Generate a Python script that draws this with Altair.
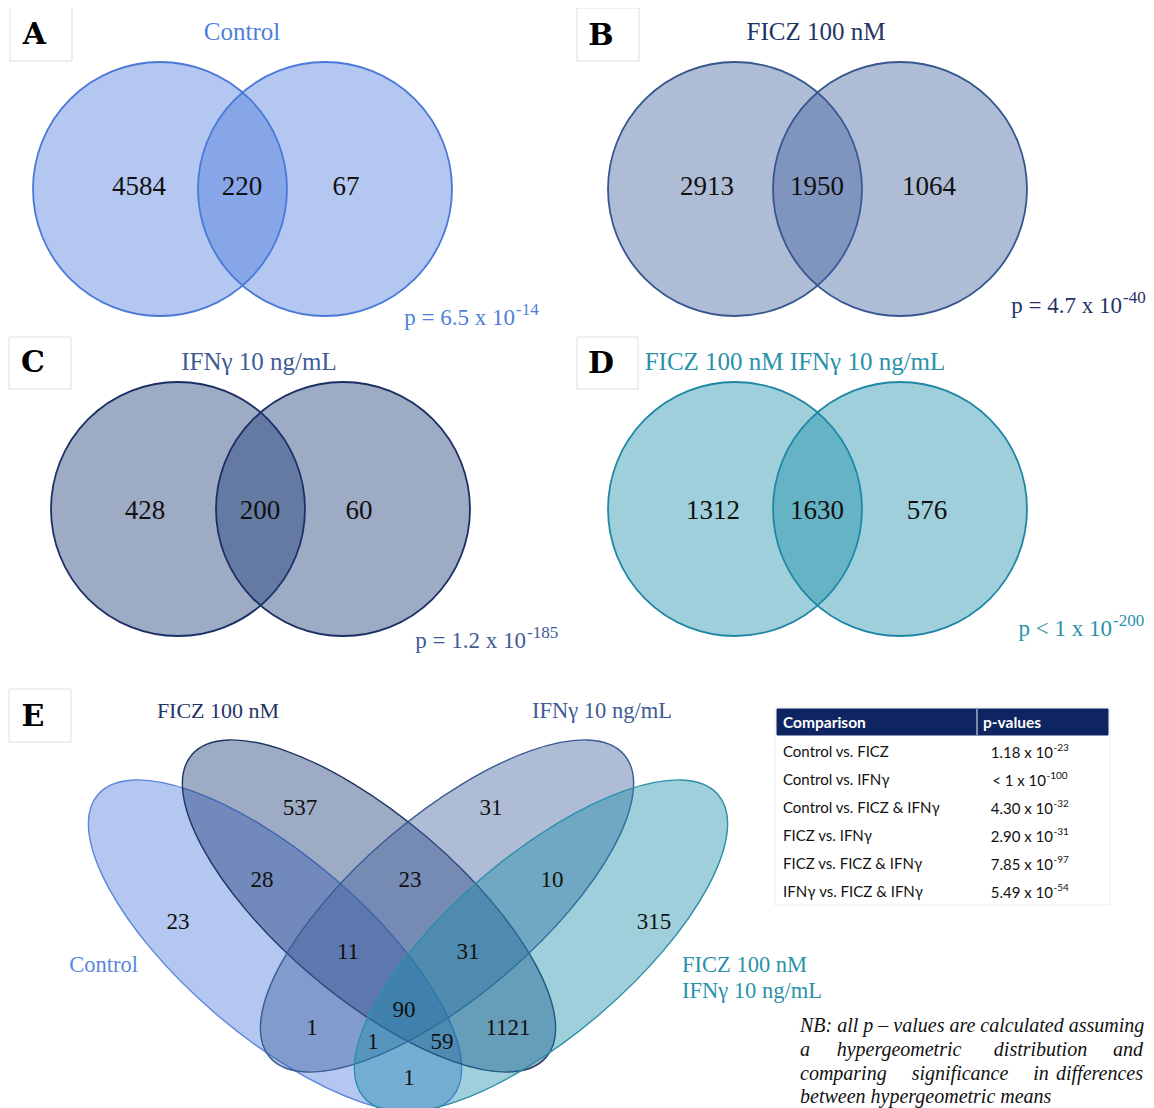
import altair as alt
import pandas as pd

# ---------------- values ----------------
PANEL_LETTERS = ["A", "B", "C", "D", "E"]

PAIR_TITLES = ["Control", "FICZ 100 nM", "IFNγ 10 ng/mL", "FICZ 100 nM IFNγ 10 ng/mL"]
PAIR_LEFT_ONLY = [4584, 2913, 428, 1312]
PAIR_SHARED = [220, 1950, 200, 1630]
PAIR_RIGHT_ONLY = [67, 1064, 60, 576]
PAIR_P_BASE = ["p = 6.5 x 10", "p = 4.7 x 10", "p = 1.2 x 10", "p < 1 x 10"]
PAIR_P_EXP = ["-14", "-40", "-185", "-200"]

QUAD_SETS = ["Control", "FICZ 100 nM", "IFNγ 10 ng/mL", "FICZ 100 nM IFNγ 10 ng/mL"]
# regions: C, F, I, FI, C&F, F&I, I&FI, C&F&I, F&I&FI, all, C&I, F&FI, C&I&FI, C&F&FI, C&FI
QUAD_COUNTS = [23, 537, 31, 315, 28, 23, 10, 11, 31, 90, 1, 1121, 1, 59, 1]

TABLE_HEAD = ["Comparison", "p-values"]
TABLE_COMPARISON = ["Control vs. FICZ", "Control vs. IFNγ", "Control vs. FICZ & IFNγ",
                    "FICZ vs. IFNγ", "FICZ vs. FICZ & IFNγ", "IFNγ vs. FICZ & IFNγ"]
TABLE_P_BASE = ["1.18 x 10", "< 1 x 10", "4.30 x 10", "2.90 x 10", "7.85 x 10", "5.49 x 10"]
TABLE_P_EXP = ["-23", "-100", "-32", "-31", "-97", "-54"]

NOTE_LINE1 = "NB: all p – values are calculated assuming"
NOTE_LINE2 = ["a", "hypergeometric", "distribution", "and"]
NOTE_LINE3 = ["comparing", "significance", "in", "differences"]
NOTE_LINE4 = "between hypergeometric means"

# ---------------- layout (page pixel coordinates) ----------------
W, H = 1138, 1100
SERIF = "Liberation Serif"
SANS = "Lato"
LETTER_FONT = "DejaVu Serif"

PAIR_LEFT_CENTER = [(160, 189), (735, 189), (178, 509), (735, 509)]
PAIR_GAP = 165
PAIR_R = 127
PAIR_FILL = ["#4a7adb", "#3e5f9d", "#183773", "#1a8da9"]
PAIR_STROKE = ["#4a78d8", "#35568f", "#1b2f66", "#1f87a5"]
PAIR_TITLE_COLOR = ["#4f7fdb", "#1f3566", "#3f5b96", "#2a91ab"]
PAIR_TITLE_POS = [(242, 32), (816, 32), (259, 362), (795, 362)]
PAIR_NUM_X = [(139, 242, 346), (707, 817, 929), (145, 260, 359), (713, 817, 927)]
PAIR_NUM_Y = [187, 187, 511, 511]
PAIR_P_JOIN = [515, 1122, 526, 1112]
PAIR_P_BASELINE = [325, 313, 648, 636]

QUAD_CENTER = [(275, 946), (369, 906), (447, 906), (541, 946)]
QUAD_ANGLE = [40.5, 40.5, 319.5, 319.5]
QUAD_A, QUAD_B = 233, 90
QUAD_FILL = ["#4a7adb", "#183773", "#3e5f9d", "#1a8da9"]
QUAD_STROKE = ["#5b86dd", "#1f3566", "#3a5a93", "#2a8fa8"]
QUAD_NUM_POS = [(178, 922), (300, 808), (491, 808), (654, 922), (262, 880), (410, 880),
                (552, 880), (348, 952), (468, 952), (404, 1010), (312, 1028), (508, 1028),
                (373, 1042), (442, 1042), (409, 1078)]

LETTER_BOX = [(10, 7, 72, 61), (577, 8, 639, 61), (9, 337, 71, 389), (577, 337, 638, 389),
              (9, 689, 71, 742)]
LETTER_POS = [(34.5, 35), (601, 35.5), (33, 363), (601, 364), (33, 717)]

TABLE_BOX = (775, 707, 1110, 905)
TABLE_HEAD_BOX = (777, 709, 1108, 735)
TABLE_DIVIDER_X = 977
TABLE_COL_X = [783, 983]
TABLE_ROW_Y = [752, 780, 808, 836, 864, 892]
TABLE_P_JOIN = [1053, 1046, 1053, 1053, 1053, 1053]

NOTE_BASELINES = [1032, 1056, 1079.5, 1103]

xs = alt.Scale(domain=[8, 8 + W], range=[0, W], nice=False, zero=False)
ys = alt.Scale(domain=[8, 8 + H], range=[0, H], nice=False, zero=False)


def X(f="x"):
    return alt.X(f"{f}:Q", scale=xs, axis=None)


def Y(f="y"):
    return alt.Y(f"{f}:Q", scale=ys, axis=None)


# ---------------- shapes ----------------
circles = []
for i in range(4):
    cx, cy = PAIR_LEFT_CENTER[i]
    for k in range(2):
        circles.append(dict(x=cx + k * PAIR_GAP, y=cy, size=(2 * PAIR_R) ** 2,
                            fill=PAIR_FILL[i], stroke=PAIR_STROKE[i]))
circles = pd.DataFrame(circles)

ellipses = pd.DataFrame([dict(x=QUAD_CENTER[i][0], y=QUAD_CENTER[i][1], size=(2 * QUAD_A) ** 2,
                              angle=QUAD_ANGLE[i], fill=QUAD_FILL[i], stroke=QUAD_STROKE[i],
                              name=QUAD_SETS[i]) for i in range(4)])
k = QUAD_B / QUAD_A
ELLIPSE_PATH = f"M-1,0A1,{k:.4f},0,1,1,1,0A1,{k:.4f},0,1,1,-1,0Z"

circle_layer = alt.Chart(circles).mark_point(
    shape="circle", filled=True, opacity=1, fillOpacity=0.42, strokeOpacity=1, strokeWidth=1.8
).encode(x=X(), y=Y(), size=alt.Size("size:Q", scale=None),
         fill=alt.Fill("fill:N", scale=None), stroke=alt.Stroke("stroke:N", scale=None))

ellipse_layer = alt.Chart(ellipses).mark_point(
    shape=ELLIPSE_PATH, filled=True, opacity=1, fillOpacity=0.42, strokeOpacity=1,
    strokeWidth=1.4, clip=True
).encode(x=X(), y=Y(), size=alt.Size("size:Q", scale=None),
         angle=alt.Angle("angle:Q", scale=None),
         fill=alt.Fill("fill:N", scale=None), stroke=alt.Stroke("stroke:N", scale=None))

# boxes
rects = []
for (x1, y1, x2, y2) in LETTER_BOX:
    rects.append(dict(x=x1, y=y1, x2=x2, y2=y2, fill="#ffffff", stroke="#dedede"))
rects.append(dict(x=TABLE_BOX[0], y=TABLE_BOX[1], x2=TABLE_BOX[2], y2=TABLE_BOX[3],
                  fill="#ffffff", stroke="#ececec"))
rects.append(dict(x=TABLE_HEAD_BOX[0], y=TABLE_HEAD_BOX[1], x2=TABLE_HEAD_BOX[2],
                  y2=TABLE_HEAD_BOX[3], fill="#0e2561", stroke="#0e2561"))
rects = pd.DataFrame(rects)
rect_layer = alt.Chart(rects).mark_rect(strokeWidth=1).encode(
    x=X(), y=Y(), x2="x2:Q", y2="y2:Q",
    fill=alt.Fill("fill:N", scale=None), stroke=alt.Stroke("stroke:N", scale=None))

divider = alt.Chart(pd.DataFrame([dict(x=TABLE_DIVIDER_X, y=TABLE_HEAD_BOX[1],
                                       y2=TABLE_HEAD_BOX[3])])).mark_rule(
    color="#c8cfe0", strokeWidth=1.2).encode(x=X(), y=Y(), y2="y2:Q")

# ---------------- texts ----------------
rows = []


def add(text, x, y, size, color, font=SERIF, align="center", baseline="middle",
        weight="normal", style="normal"):
    rows.append(dict(text=str(text), x=x, y=y, size=size, color=color, font=font,
                     align=align, baseline=baseline, weight=weight, style=style))


for i, letter in enumerate(PANEL_LETTERS):
    add(letter, LETTER_POS[i][0], LETTER_POS[i][1], 30, "#000000", font=LETTER_FONT, weight="bold")

for i in range(4):
    tx, ty = PAIR_TITLE_POS[i]
    add(PAIR_TITLES[i], tx, ty, 25, PAIR_TITLE_COLOR[i])
    vals = [PAIR_LEFT_ONLY[i], PAIR_SHARED[i], PAIR_RIGHT_ONLY[i]]
    for j in range(3):
        add(vals[j], PAIR_NUM_X[i][j], PAIR_NUM_Y[i], 27, "#111111")
    add(PAIR_P_BASE[i], PAIR_P_JOIN[i], PAIR_P_BASELINE[i], 23, PAIR_TITLE_COLOR[i],
        align="right", baseline="alphabetic")
    add(PAIR_P_EXP[i], PAIR_P_JOIN[i] + 1, PAIR_P_BASELINE[i] - 10, 17, PAIR_TITLE_COLOR[i],
        align="left", baseline="alphabetic")

for (x, y), v in zip(QUAD_NUM_POS, QUAD_COUNTS):
    add(v, x, y, 23, "#111111")

add("Control", 103.5, 965, 22.5, "#5b86dd")
add("FICZ 100 nM", 218, 711, 22, "#1f3566")
add("IFNγ 10 ng/mL", 602, 711, 22.5, "#3f5b96")
add("FICZ 100 nM", 682, 965, 22.5, "#2a91ab", align="left")
add("IFNγ 10 ng/mL", 682, 991, 22.5, "#2a91ab", align="left")

# table
add(TABLE_HEAD[0], TABLE_COL_X[0], 722.5, 15.5, "#ffffff", font=SANS, align="left", weight="bold")
add(TABLE_HEAD[1], TABLE_COL_X[1], 722.5, 15.5, "#ffffff", font=SANS, align="left", weight="bold")
for r in range(6):
    ry = TABLE_ROW_Y[r]
    add(TABLE_COMPARISON[r], TABLE_COL_X[0], ry, 15, "#111111", font=SANS, align="left")
    add(TABLE_P_BASE[r], TABLE_P_JOIN[r], ry + 5.5, 15, "#111111", font=SANS, align="right",
        baseline="alphabetic")
    add(TABLE_P_EXP[r], TABLE_P_JOIN[r] + 0.5, ry - 1.5, 10, "#111111", font=SANS,
        align="left", baseline="alphabetic")

# note (justified lines rebuilt word by word)
b1, b2, b3, b4 = NOTE_BASELINES
add(NOTE_LINE1, 800, b1, 20, "#111111", align="left", baseline="alphabetic", style="italic")
add(NOTE_LINE2[0], 800, b2, 20, "#111111", align="left", baseline="alphabetic", style="italic")
add(NOTE_LINE2[1], 899, b2, 20, "#111111", align="center", baseline="alphabetic", style="italic")
add(NOTE_LINE2[2], 1040.5, b2, 20, "#111111", align="center", baseline="alphabetic", style="italic")
add(NOTE_LINE2[3], 1143, b2, 20, "#111111", align="right", baseline="alphabetic", style="italic")
add(NOTE_LINE3[0], 800, b3, 20, "#111111", align="left", baseline="alphabetic", style="italic")
add(NOTE_LINE3[1], 960, b3, 20, "#111111", align="center", baseline="alphabetic", style="italic")
add(NOTE_LINE3[2], 1041, b3, 20, "#111111", align="center", baseline="alphabetic", style="italic")
add(NOTE_LINE3[3], 1143, b3, 20, "#111111", align="right", baseline="alphabetic", style="italic")
add(NOTE_LINE4, 800, b4, 20, "#111111", align="left", baseline="alphabetic", style="italic")

texts = pd.DataFrame(rows)
text_layers = []
for key, grp in texts.groupby(["font", "align", "baseline", "weight", "style"]):
    font, align, baseline, weight, style = key
    text_layers.append(
        alt.Chart(grp.reset_index(drop=True)).mark_text(
            font=font, align=align, baseline=baseline, fontWeight=weight, fontStyle=style
        ).encode(x=X(), y=Y(), text="text:N",
                 size=alt.Size("size:Q", scale=None),
                 color=alt.Color("color:N", scale=None))
    )

chart = alt.layer(circle_layer, ellipse_layer, rect_layer, divider, *text_layers).properties(
    width=W, height=H, padding=0, autosize=alt.AutoSizeParams(type="none"),
    background="#ffffff"
).configure_view(stroke=None)

chart.save("out.html", embed_options={"renderer": "svg", "actions": False})
